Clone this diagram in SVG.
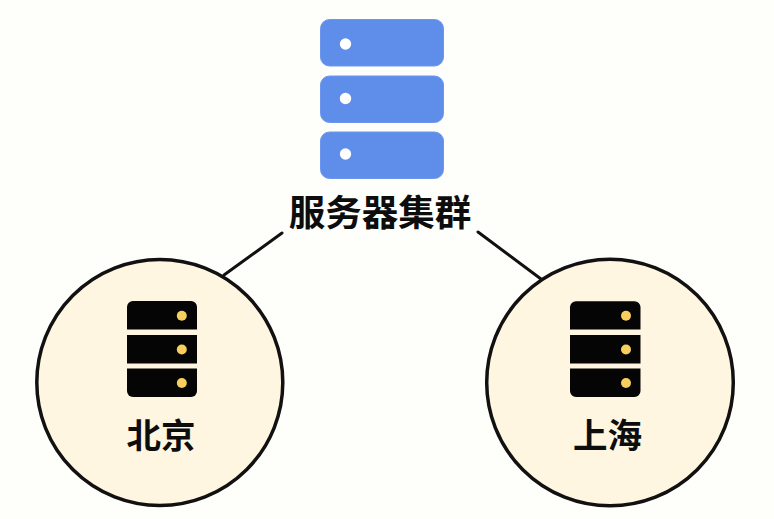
<svg xmlns="http://www.w3.org/2000/svg" width="774" height="519" viewBox="0 0 774 519">
<defs>
<style>
.bg{fill:#fefefb}
.rack{fill:#5f8dea;stroke:#6d97ee;stroke-width:1}
.hole{fill:#fff}
.site{fill:#fef6e0;stroke:#111;stroke-width:3.500}
.unit{fill:#050505}
.led{fill:#f8cf5c}
.link{fill:none;stroke:#111;stroke-width:3;stroke-linecap:round}
text{font-family:"Noto Sans CJK SC","Noto Sans CJK JP",sans-serif;font-weight:700;fill:#0d0d0d;text-anchor:middle}
</style>
</defs>
<rect class="bg" width="774" height="519"/>
<g id="connectors">
<line class="link" x1="282" y1="233" x2="224" y2="275"/>
<line class="link" x1="478" y1="232" x2="541" y2="279"/>
</g>
<g id="cluster">
<rect class="rack" x="320.500" y="19.500" width="123" height="46.500" rx="9"/>
<rect class="rack" x="320.500" y="76" width="123" height="46.500" rx="9"/>
<rect class="rack" x="320.500" y="132" width="123" height="46.500" rx="9"/>
<circle class="hole" cx="345.500" cy="44" r="5.700"/>
<circle class="hole" cx="345.500" cy="98.500" r="5.700"/>
<circle class="hole" cx="345.500" cy="154" r="5.700"/>
<text x="380" y="225.500" font-size="36.500">服务器集群</text>
</g>
<g id="beijing">
<circle class="site" cx="159.800" cy="382.500" r="123"/>
<path class="unit" d="M127 329.500V307a6 6 0 0 1 6-6h58a6 6 0 0 1 6 6v22.500z"/>
<rect class="unit" x="127" y="335" width="70" height="28.500"/>
<path class="unit" d="M127 368.500h70V391a6 6 0 0 1-6 6h-58a6 6 0 0 1-6-6z"/>
<circle class="led" cx="181.800" cy="315.700" r="5"/>
<circle class="led" cx="181.800" cy="349.500" r="5"/>
<circle class="led" cx="181.800" cy="383" r="5"/>
<text x="161" y="447.500" font-size="34.500">北京</text>
</g>
<g id="shanghai">
<circle class="site" cx="610" cy="382.500" r="123.300"/>
<path class="unit" d="M570 329.500V307.300a6 6 0 0 1 6-6h58.500a6 6 0 0 1 6 6v22.200z"/>
<rect class="unit" x="570" y="335" width="70.500" height="28.500"/>
<path class="unit" d="M570 368.500h70.500V391a6 6 0 0 1-6 6H576a6 6 0 0 1-6-6z"/>
<circle class="led" cx="626" cy="315.700" r="5"/>
<circle class="led" cx="626" cy="349.500" r="5"/>
<circle class="led" cx="626" cy="383" r="5"/>
<text x="607.500" y="447.500" font-size="34.500">上海</text>
</g>
</svg>
